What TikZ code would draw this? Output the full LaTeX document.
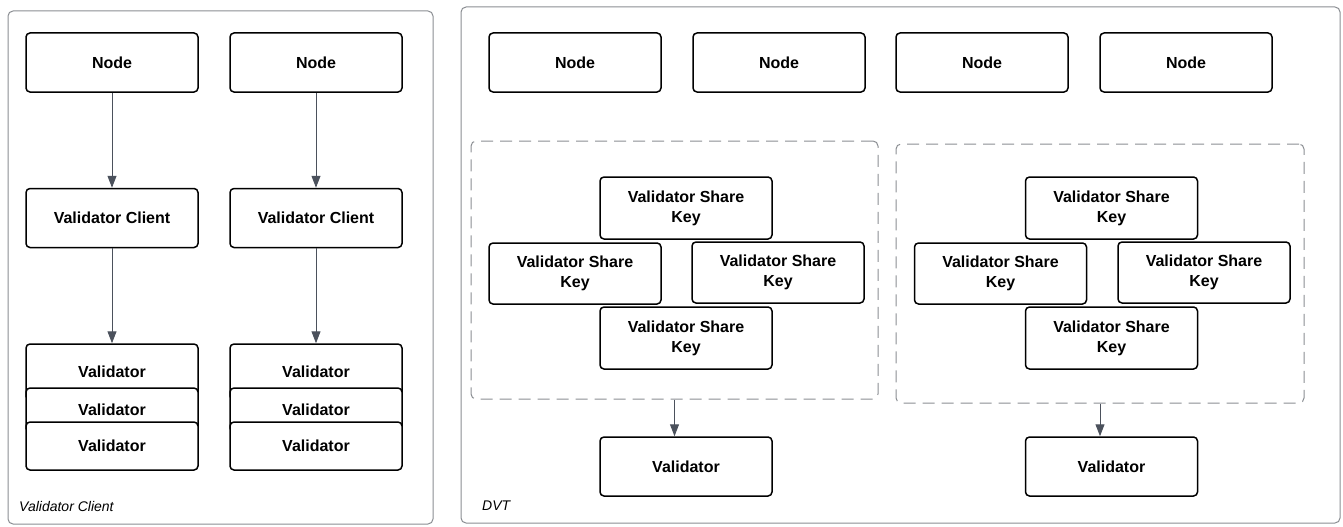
\documentclass[tikz,border=0pt]{standalone}
\usepackage{fontspec}
\setmainfont{Liberation Sans}
\usetikzlibrary{arrows.meta}
\definecolor{framegray}{HTML}{8A8D92}
\definecolor{arrowgray}{HTML}{4B515C}
\tikzset{
  box/.style={draw=black, line width=1.5pt, rounded corners=4pt, fill=white,
    minimum width=172pt, inner sep=0pt, align=center,
    font=\fontsize{16}{20}\selectfont\bfseries},
  frame/.style={draw=framegray, line width=1pt, rounded corners=5pt, inner sep=0pt},
  dashframe/.style={draw=framegray, line width=1pt, rounded corners=5pt, inner sep=0pt,
    dash pattern=on 12pt off 7pt},
  arr/.style={draw=arrowgray, line width=1pt, -{Triangle[length=12pt,width=9pt]}},
  lbl/.style={anchor=west, inner sep=0pt, font=\fontsize{14}{16}\selectfont\itshape}
}
\begin{document}
\begin{tikzpicture}[x=1pt,y=-1pt]
\useasboundingbox (0,0) rectangle (1343,527);
% containers
\node[frame, minimum width=425pt, minimum height=513pt] (cl) at (220.5,267.5) {};
\node[frame, minimum width=879pt, minimum height=516pt] (cr) at (900.5,265) {};
\node[lbl] (lcl) at (19,506) {Validator Client};
\node[lbl] (lcr) at (482,506) {DVT};
% left column
\node[box, minimum height=59pt] (n1) at (112,62.5) {Node};
\node[box, minimum height=59pt] (n2) at (316,62.5) {Node};
\node[box, minimum height=59pt] (vc1) at (112,218) {Validator Client};
\node[box, minimum height=59pt] (vc2) at (316,218) {Validator Client};
\node[box, minimum height=56pt] (va1) at (112,372) {Validator};
\node[box, minimum height=44pt] (vb1) at (112,410) {Validator};
\node[box, minimum height=48pt] (vc31) at (112,446) {Validator};
\node[box, minimum height=56pt] (va2) at (316,372) {Validator};
\node[box, minimum height=44pt] (vb2) at (316,410) {Validator};
\node[box, minimum height=48pt] (vc32) at (316,446) {Validator};
\draw[arr] (n1) -- (vc1);
\draw[arr] (n2) -- (vc2);
\draw[arr] (vc1) -- (va1);
\draw[arr] (vc2) -- (va2);
% right top nodes
\node[box, minimum height=59pt] (r1) at (575,62.5) {Node};
\node[box, minimum height=59pt] (r2) at (779,62.5) {Node};
\node[box, minimum height=59pt] (r3) at (982,62.5) {Node};
\node[box, minimum height=59pt] (r4) at (1186,62.5) {Node};
% dashed group 1
\node[dashframe, minimum width=407pt, minimum height=258pt] (d1) at (674.5,270) {};
\node[box, minimum height=62pt] (k1t) at (686,208) {Validator Share\\Key};
\node[box, minimum height=61pt] (k1l) at (575,273.5) {Validator Share\\Key};
\node[box, minimum height=61pt] (k1r) at (778,272.5) {Validator Share\\Key};
\node[box, minimum height=62pt] (k1b) at (686,338) {Validator Share\\Key};
\node[box, minimum height=59pt] (val1) at (686,466.5) {Validator};
\draw[arr] (d1.south) -- (d1.south |- val1.north);
% dashed group 2
\node[dashframe, minimum width=408pt, minimum height=259pt] (d2) at (1100,273.5) {};
\node[box, minimum height=62pt] (k2t) at (1111.5,208) {Validator Share\\Key};
\node[box, minimum height=61pt] (k2l) at (1000.5,273.5) {Validator Share\\Key};
\node[box, minimum height=61pt] (k2r) at (1204,272.5) {Validator Share\\Key};
\node[box, minimum height=62pt] (k2b) at (1111.5,338) {Validator Share\\Key};
\node[box, minimum height=59pt] (val2) at (1111.5,466.5) {Validator};
\draw[arr] (d2.south) -- (d2.south |- val2.north);
\end{tikzpicture}
\end{document}
